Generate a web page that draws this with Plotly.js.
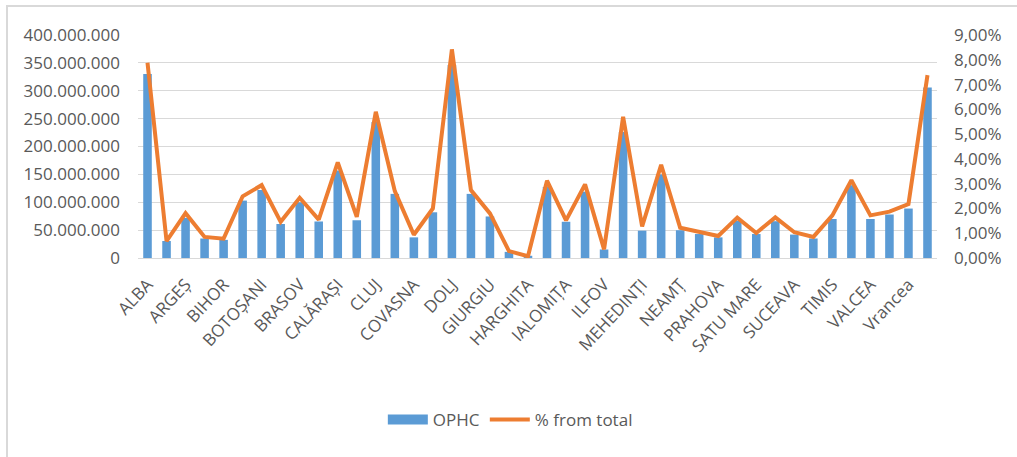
<!DOCTYPE html>
<html>
<head>
<meta charset="utf-8">
<script src="https://cdn.plot.ly/plotly-3.0.1.min.js"></script>
<style>
  html, body { margin: 0; padding: 0; background: #ffffff; }
  #wrap { position: relative; width: 1017px; height: 457px; overflow: hidden; }
  #chart { position: absolute; left: 0; top: 0; width: 1017px; height: 457px; }
  #frame { position: absolute; left: 6px; top: 5px; width: 1100px; height: 500px;
           border-left: 2px solid #d9d9d9; border-top: 2px solid #d9d9d9; pointer-events: none; }
</style>
</head>
<body>
<div id="wrap"><div id="chart"></div><div id="frame"></div></div>
<script>
const categories = ["ALBA","ARAD","ARGEȘ","BACĂU","BIHOR","BISTRIȚA-NĂSĂUD","BOTOȘANI","BRĂILA","BRASOV","BUZĂU",
  "CALĂRAȘI","CARAȘ-SEVERIN","CLUJ","CONSTANȚA","COVASNA","DÂMBOVIȚA","DOLJ","GALAȚI","GIURGIU","GORJ",
  "HARGHITA","HUNEDOARA","IALOMIȚA","IAȘI","ILFOV","MARAMUREȘ","MEHEDINȚI","MUREȘ","NEAMȚ","OLT",
  "PRAHOVA","SĂLAJ","SATU MARE","SIBIU","SUCEAVA","TELEORMAN","TIMIS","TULCEA","VALCEA","VASLUI",
  "Vrancea","BUCUREȘTI"];

const ophc = [330000000, 30500000, 72000000, 35000000, 32500000, 103000000, 122000000, 61000000, 100000000, 65500000,
  157000000, 67700000, 244000000, 115000000, 37000000, 82000000, 346000000, 115000000, 74500000, 11000000,
  4000000, 127500000, 65000000, 119000000, 15300000, 226000000, 49000000, 150000000, 49800000, 43000000,
  37000000, 67000000, 43000000, 66000000, 42000000, 35000000, 70000000, 130600000, 70000000, 78000000,
  88700000, 306000000];

const pctFromTotal = [0.0788, 0.0068, 0.0181, 0.0085, 0.0078, 0.0249, 0.0294, 0.0146, 0.0243, 0.0155,
  0.0386, 0.0166, 0.0590, 0.0270, 0.0094, 0.0200, 0.0842, 0.0274, 0.0180, 0.0028,
  0.0007, 0.0312, 0.0152, 0.0297, 0.0035, 0.0570, 0.0127, 0.0376, 0.0122, 0.0106,
  0.0089, 0.0163, 0.0101, 0.0164, 0.0104, 0.0085, 0.0172, 0.0314, 0.0172, 0.0187,
  0.0218, 0.0738];

const tickCats = categories.filter((c, i) => i % 2 === 0);

const FONT = "'Open Sans', sans-serif";
const GREY = "#595959";
const BLUE = "#5b9bd5";
const ORANGE = "#ed7d31";

const traces = [
  {
    type: "bar", name: "OPHC", x: categories, y: ophc,
    marker: { color: BLUE }, yaxis: "y", showlegend: false
  },
  {
    // legend-only entry drawn as a wide block, like the reference legend key
    type: "scatter", mode: "lines", name: "OPHC", x: [null], y: [null],
    line: { color: BLUE, width: 13 }, yaxis: "y", showlegend: true
  },
  {
    type: "scatter", mode: "lines", name: "% from total", x: categories, y: pctFromTotal,
    line: { color: ORANGE, width: 4, shape: "linear" }, yaxis: "y2"
  }
];

const layout = {
  width: 1017, height: 457,
  margin: { l: 138, r: 80, t: 35, b: 199, pad: 0 },
  paper_bgcolor: "#ffffff", plot_bgcolor: "#ffffff",
  separators: ",.",
  bargap: 0.55,
  showlegend: true,
  font: { family: FONT, color: GREY, size: 17 },
  xaxis: {
    type: "category", range: [-0.5, 41.5],
    tickmode: "array", tickvals: tickCats, ticktext: tickCats,
    tickangle: -47, ticks: "", showgrid: false, zeroline: false,
    showline: true, linecolor: "#d9d9d9", linewidth: 1,
    tickfont: { family: FONT, color: GREY, size: 17 },
    ticklabelstandoff: 9
  },
  yaxis: {
    range: [0, 400000000], dtick: 50000000, tickformat: ",d",
    showgrid: true, gridcolor: "#d9d9d9", gridwidth: 1,
    zeroline: false, showline: false, ticks: "",
    tickfont: { family: FONT, color: GREY, size: 17 },
    ticklabelstandoff: 17
  },
  yaxis2: {
    overlaying: "y", side: "right",
    range: [0, 0.09], dtick: 0.01, tickformat: ".2%",
    showgrid: false, zeroline: false, showline: false, ticks: "",
    tickfont: { family: FONT, color: GREY, size: 17 },
    ticklabelstandoff: 16
  },
  legend: {
    orientation: "h", x: 0.466, xanchor: "center", y: -0.726, yanchor: "middle",
    font: { family: FONT, color: GREY, size: 17 },
    itemwidth: 40, traceorder: "normal",
    bgcolor: "rgba(0,0,0,0)"
  }
};

Plotly.newPlot("chart", traces, layout, { staticPlot: true, displayModeBar: false });
</script>
</body>
</html>
